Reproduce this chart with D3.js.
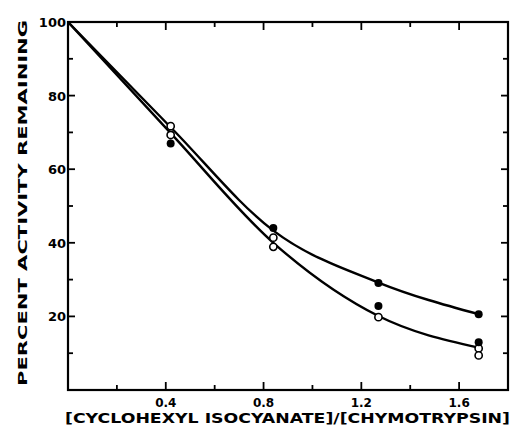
<!DOCTYPE html>
<html><head><meta charset="utf-8">
<script src="https://cdn.jsdelivr.net/npm/d3@7"></script>
<style>body{margin:0;background:#fff}svg{display:block}</style>
</head><body><svg id="c" width="515" height="434"></svg>
<script>
// ---- data ----
const xTicks = [0.2,0.4,0.6,0.8,1.0,1.2,1.4,1.6];
const xTickLabels = ["0.4","0.8","1.2","1.6"];
const yTicks = [10,20,30,40,50,60,70,80,90];
const yTickLabels = ["20","40","60","80","100"];
// fitted curves (hand-drawn in original)
const curveX = [0, 0.42, 0.84, 1.27, 1.68];
const upperCurve = [100, 71.4, 43.3, 29.2, 20.6];
const lowerCurve = [100, 69.8, 40.0, 20.1, 11.5];
// experimental points
const filledX = [0.42, 0.84, 1.27, 1.68, 1.27, 1.68];
const filledY = [67.0, 44.0, 29.1, 20.6, 22.8, 13.0];
const openX = [0.42, 0.42, 0.84, 0.84, 1.27, 1.68, 1.68];
const openY = [71.7, 69.3, 41.4, 38.9, 19.8, 11.3, 9.4];
const xTitle = "[CYCLOHEXYL ISOCYANATE]/[CHYMOTRYPSIN]";
const yTitle = "PERCENT ACTIVITY REMAINING";

// ---- drawing ----
const svg = d3.select("#c");
const L=68, R=508, T=22, B=390;
const x = d3.scaleLinear().domain([0,1.8]).range([L,R]);
const y = d3.scaleLinear().domain([0,100]).range([B,T]);
const font = "'DejaVu Sans', sans-serif";

// frame
svg.append("rect").attr("x",L).attr("y",T).attr("width",R-L).attr("height",B-T)
  .attr("fill","none").attr("stroke","#000").attr("stroke-width",2.2);

// ticks
const isMajorX = v => Math.abs(v/0.4 - Math.round(v/0.4))<1e-6;
xTicks.forEach(v=>{
  const len = isMajorX(v)?8:5;
  svg.append("line").attr("x1",x(v)).attr("x2",x(v)).attr("y1",B).attr("y2",B-len)
    .attr("stroke","#000").attr("stroke-width",1.8);
  svg.append("line").attr("x1",x(v)).attr("x2",x(v)).attr("y1",T).attr("y2",T+len)
    .attr("stroke","#000").attr("stroke-width",1.8);
});
yTicks.forEach(v=>{
  const len = (v%20===0)?7:5;
  svg.append("line").attr("x1",L).attr("x2",L+len).attr("y1",y(v)).attr("y2",y(v))
    .attr("stroke","#000").attr("stroke-width",1.8);
  svg.append("line").attr("x1",R).attr("x2",R-len).attr("y1",y(v)).attr("y2",y(v))
    .attr("stroke","#000").attr("stroke-width",1.8);
});

// tick labels
xTickLabels.forEach(s=>{
  svg.append("text").attr("x",x(+s)).attr("y",407).attr("text-anchor","middle")
    .attr("font-family",font).attr("font-weight","bold").attr("font-size",12).text(s);
});
yTickLabels.forEach(s=>{
  svg.append("text").attr("x",L-2).attr("y",y(+s)+5).attr("text-anchor","end")
    .attr("font-family",font).attr("font-weight","bold").attr("font-size",13).text(s);
});

// titles
svg.append("text").attr("x",65).attr("y",423)
  .attr("font-family",font).attr("font-weight","bold").attr("font-size",14.5)
  .attr("textLength",445).attr("lengthAdjust","spacingAndGlyphs").text(xTitle);
svg.append("text").attr("transform","translate(27,386) rotate(-90)")
  .attr("font-family",font).attr("font-weight","bold").attr("font-size",13)
  .attr("textLength",366).attr("lengthAdjust","spacingAndGlyphs").text(yTitle);

// curves
const line = d3.line().x(d=>x(d[0])).y(d=>y(d[1])).curve(d3.curveMonotoneX);
[upperCurve, lowerCurve].forEach(c=>{
  svg.append("path").datum(curveX.map((v,i)=>[v,c[i]])).attr("d",line)
    .attr("fill","none").attr("stroke","#000").attr("stroke-width",2.4);
});

// points
openX.forEach((v,i)=>{
  svg.append("circle").attr("cx",x(v)).attr("cy",y(openY[i])).attr("r",3.6)
    .attr("fill","#fff").attr("stroke","#000").attr("stroke-width",1.6);
});
filledX.forEach((v,i)=>{
  svg.append("circle").attr("cx",x(v)).attr("cy",y(filledY[i])).attr("r",4)
    .attr("fill","#000");
});
</script></body></html>
